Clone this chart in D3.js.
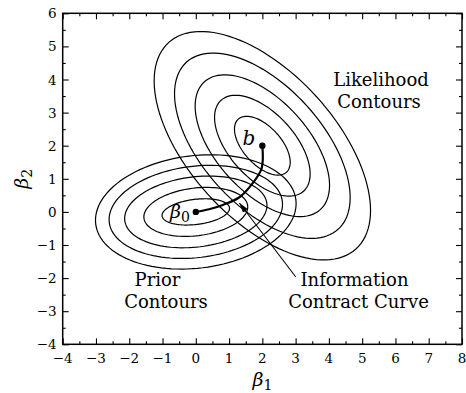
<!DOCTYPE html>
<html>
<head>
<meta charset="utf-8">
<script src="https://cdn.jsdelivr.net/npm/d3@7"></script>
<style>
  body { margin: 0; background: #fff; }
  svg text { font-family: "DejaVu Serif", "Liberation Serif", serif; }
</style>
</head>
<body>
<svg id="chart" width="466" height="393"></svg>
<script>
// axis ranges and ticks
var xDomain = [-4, 8];
var yDomain = [-4, 6];
var xTicks = d3.range(-4, 9);
var yTicks = d3.range(-4, 7);

// prior contours around beta0
var priorCenter = [0, 0];
var priorRx = [1.02, 1.57, 2.15, 2.62, 3.03];
var priorRy = [0.38, 0.72, 1.06, 1.38, 1.7];
var priorAngle = 7;

// likelihood contours around b
var likeCenter = [2, 2];
var likeRx = [1.08, 1.85, 2.6, 3.4, 4.2];
var likeRy = [0.57, 0.98, 1.38, 1.8, 2.2];
var likeAngle = -48;

// information contract curve from beta0 to b
var curveX = [0, 0.4, 0.81, 1.32, 1.71, 1.98, 2];
var curveY = [0, 0.08, 0.21, 0.45, 0.87, 1.32, 2];

// arrow: from the label to the curve
var arrowFrom = [3.0, -1.96];
var arrowTo = [1.31, 0.27];

var margin = { top: 13.3, right: 4, bottom: 48.7, left: 62.7 };
var width = 466, height = 393;

var x = d3.scaleLinear().domain(xDomain).range([margin.left, width - margin.right]);
var y = d3.scaleLinear().domain(yDomain).range([height - margin.bottom, margin.top]);

var svg = d3.select('#chart');

var defs = svg.append('defs');
defs.append('marker')
  .attr('id', 'head')
  .attr('viewBox', '0 0 10 6')
  .attr('refX', 10)
  .attr('refY', 3)
  .attr('markerWidth', 10)
  .attr('markerHeight', 6)
  .attr('markerUnits', 'userSpaceOnUse')
  .attr('orient', 'auto')
  .append('path')
  .attr('d', 'M0,0 L10,3 L0,6 Z')
  .attr('fill', '#000');

// ellipse outline through the scales
function ellipsePoints(c, rx, ry, deg) {
  var t = deg * Math.PI / 180;
  return d3.range(0, 361, 3).map(function (a) {
    var r = a * Math.PI / 180;
    var ex = rx * Math.cos(r), ey = ry * Math.sin(r);
    return [c[0] + ex * Math.cos(t) - ey * Math.sin(t),
            c[1] + ex * Math.sin(t) + ey * Math.cos(t)];
  });
}

var line = d3.line()
  .x(function (d) { return x(d[0]); })
  .y(function (d) { return y(d[1]); });

svg.append('clipPath').attr('id', 'plot')
  .append('rect')
  .attr('x', x(xDomain[0])).attr('y', y(yDomain[1]))
  .attr('width', x(xDomain[1]) - x(xDomain[0]))
  .attr('height', y(yDomain[0]) - y(yDomain[1]));

var g = svg.append('g').attr('clip-path', 'url(#plot)');

g.selectAll('.prior')
  .data(priorRx)
  .enter()
  .append('path')
  .attr('class', 'prior')
  .attr('d', function (d, i) { return line(ellipsePoints(priorCenter, d, priorRy[i], priorAngle)) + 'Z'; })
  .attr('fill', 'none')
  .attr('stroke', '#000')
  .attr('stroke-width', 1.2);

g.selectAll('.like')
  .data(likeRx)
  .enter()
  .append('path')
  .attr('class', 'like')
  .attr('d', function (d, i) { return line(ellipsePoints(likeCenter, d, likeRy[i], likeAngle)) + 'Z'; })
  .attr('fill', 'none')
  .attr('stroke', '#000')
  .attr('stroke-width', 1.2);

var curvePts = curveX.map(function (v, i) { return [v, curveY[i]]; });
g.append('path')
  .attr('d', line.curve(d3.curveCatmullRom.alpha(0.5))(curvePts))
  .attr('fill', 'none')
  .attr('stroke', '#000')
  .attr('stroke-width', 2.2);
line.curve(d3.curveLinear);

g.append('line')
  .attr('x1', x(arrowFrom[0])).attr('y1', y(arrowFrom[1]))
  .attr('x2', x(arrowTo[0])).attr('y2', y(arrowTo[1]))
  .attr('stroke', '#000')
  .attr('stroke-width', 1.1)
  .attr('marker-end', 'url(#head)');

g.selectAll('.dot')
  .data([priorCenter, likeCenter])
  .enter()
  .append('circle')
  .attr('class', 'dot')
  .attr('cx', function (d) { return x(d[0]); })
  .attr('cy', function (d) { return y(d[1]); })
  .attr('r', 3.2)
  .attr('fill', '#000');

// frame with inward major/minor ticks on all sides
var minorX = d3.range(-3.5, 8, 1);
var minorY = d3.range(-3.5, 6, 1);
var fmt = function (d) { return d < 0 ? '\u2212' + Math.abs(d) : String(d); };

function tickSide(axisFn, scale, ticks, len, tr) {
  var a = axisFn(scale).tickValues(ticks).tickSizeInner(-len).tickSizeOuter(0).tickFormat('');
  var sel = svg.append('g').attr('transform', tr).call(a);
  sel.select('.domain').remove();
  sel.selectAll('line').attr('stroke', '#000').attr('stroke-width', 1.1);
  return sel;
}

var bottomY = y(yDomain[0]), topY = y(yDomain[1]);
var leftX = x(xDomain[0]), rightX = x(xDomain[1]);

tickSide(d3.axisBottom, x, xTicks, 6, 'translate(0,' + bottomY + ')');
tickSide(d3.axisBottom, x, minorX, 3, 'translate(0,' + bottomY + ')');
tickSide(d3.axisTop, x, xTicks, 6, 'translate(0,' + topY + ')');
tickSide(d3.axisTop, x, minorX, 3, 'translate(0,' + topY + ')');
tickSide(d3.axisLeft, y, yTicks, 6, 'translate(' + leftX + ',0)');
tickSide(d3.axisLeft, y, minorY, 3, 'translate(' + leftX + ',0)');
tickSide(d3.axisRight, y, yTicks, 6, 'translate(' + rightX + ',0)');
tickSide(d3.axisRight, y, minorY, 3, 'translate(' + rightX + ',0)');

svg.append('rect')
  .attr('x', leftX).attr('y', topY)
  .attr('width', rightX - leftX).attr('height', bottomY - topY)
  .attr('fill', 'none')
  .attr('stroke', '#000')
  .attr('stroke-width', 1.5);

svg.selectAll('.xlab')
  .data(xTicks)
  .enter()
  .append('text')
  .attr('class', 'xlab')
  .attr('x', function (d) { return x(d); })
  .attr('y', bottomY + 19)
  .attr('text-anchor', 'middle')
  .attr('font-size', 13.5)
  .text(fmt);

svg.selectAll('.ylab')
  .data(yTicks)
  .enter()
  .append('text')
  .attr('class', 'ylab')
  .attr('x', leftX - 6)
  .attr('y', function (d) { return y(d) + 5; })
  .attr('text-anchor', 'end')
  .attr('font-size', 13.5)
  .text(fmt);

// axis titles
function greek(sel, sub) {
  sel.append('tspan').attr('font-style', 'italic').text('\u03B2');
  sel.append('tspan').attr('font-size', 14).attr('dy', 4).text(sub);
}

var xt = svg.append('text')
  .attr('x', (leftX + rightX) / 2)
  .attr('y', 386)
  .attr('text-anchor', 'middle')
  .attr('font-size', 19);
greek(xt, '1');

var yt = svg.append('text')
  .attr('transform', 'translate(28,' + ((topY + bottomY) / 2) + ') rotate(-90)')
  .attr('text-anchor', 'middle')
  .attr('font-size', 19);
greek(yt, '2');

// point labels
var b0 = svg.append('text')
  .attr('x', x(priorCenter[0]) - 6)
  .attr('y', y(priorCenter[1]) + 6)
  .attr('text-anchor', 'end')
  .attr('font-size', 19);
greek(b0, '0');

svg.append('text')
  .attr('x', x(likeCenter[0]) - 7)
  .attr('y', y(likeCenter[1]) - 1)
  .attr('text-anchor', 'end')
  .attr('font-size', 20)
  .attr('font-style', 'italic')
  .text('b');

// annotations
var notes = [
  { t: 'Likelihood', x: 381, y: 86 },
  { t: 'Contours', x: 379, y: 108 },
  { t: 'Prior', x: 157.5, y: 286 },
  { t: 'Contours', x: 166, y: 308 },
  { t: 'Information', x: 354.5, y: 286 },
  { t: 'Contract Curve', x: 358.5, y: 308 }
];
svg.selectAll('.note')
  .data(notes)
  .enter()
  .append('text')
  .attr('class', 'note')
  .attr('x', function (d) { return d.x; })
  .attr('y', function (d) { return d.y; })
  .attr('text-anchor', 'middle')
  .attr('font-size', 18)
  .text(function (d) { return d.t; });
</script>
</body>
</html>
